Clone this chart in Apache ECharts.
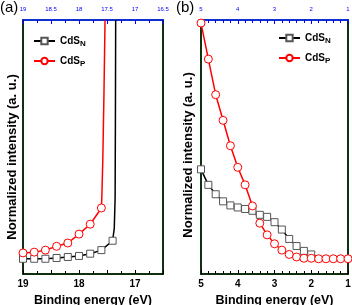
<!DOCTYPE html>
<html><head><meta charset="utf-8">
<script src="https://cdn.jsdelivr.net/npm/echarts@6/dist/echarts.min.js"></script>
<style>html,body{margin:0;padding:0;background:#fff}#c{width:352px;height:305px}</style>
</head><body><div id="c"></div>
<script>
// Panel (a)
const xA_N = [19.0, 18.8, 18.6, 18.4, 18.2, 18.0, 17.8, 17.6, 17.4];
const yA_N = [6.0, 6.0, 6.0, 6.3, 6.7, 7.1, 8.0, 9.4, 13.1];
const xA_N_rise = [17.37, 17.355, 17.35, 17.345];
const yA_N_rise = [18, 30, 60, 100];
const xA_P = [19.0, 18.8, 18.6, 18.4, 18.2, 18.0, 17.8, 17.6];
const yA_P = [8.3, 8.6, 9.4, 10.9, 12.2, 15.7, 19.6, 26.0];
const xA_P_rise = [17.59, 17.575, 17.555, 17.535];
const yA_P_rise = [32, 45, 70, 100];
// Panel (b)
const xB = [5.0, 4.8, 4.6, 4.4, 4.2, 4.0, 3.8, 3.6, 3.4, 3.2, 3.0, 2.8, 2.6, 2.4, 2.2, 2.0, 1.8, 1.6, 1.4, 1.2, 1.0];
const yB_N = [41.2, 35.1, 31.4, 28.6, 27.0, 26.2, 25.6, 24.9, 23.3, 22.5, 20.4, 17.5, 13.8, 11.0, 9.1, 7.7];
const yB_N_tail = [6.6, 6.4, 6.3, 6.2, 6.2];
const yB_P = [98.8, 84.6, 70.6, 60.5, 50.5, 42.0, 35.1, 26.8, 20.0, 15.4, 11.9, 9.4, 7.7, 6.7, 6.2, 6.2, 6.0, 6.0, 6.0, 6.0, 6.0];
const seriesNames = ['CdS_N', 'CdS_P'];
const xAxisTitle = 'Binding energy (eV)';
const yAxisTitle = 'Normalized intensity (a. u.)';
const panelLabels = ['(a)', '(b)'];

const FONT = 'Liberation Sans, Arial, sans-serif';
function pts(xs, ys) { return xs.map((x, i) => [x, ys[i]]); }
function noSym(xs, ys) { return xs.map((x, i) => ({ value: [x, ys[i]], symbol: 'none' })); }

const styleN = {
  type: 'line', symbol: 'rect', symbolSize: 7, showAllSymbol: true,
  lineStyle: { color: '#000', width: 1.5 },
  itemStyle: { color: '#fff', borderColor: '#555', borderWidth: 1 },
  emphasis: { disabled: true }
};
const styleP = {
  type: 'line', symbol: 'circle', symbolSize: 8, showAllSymbol: true,
  lineStyle: { color: '#f00', width: 1.5 },
  itemStyle: { color: '#fff', borderColor: '#f00', borderWidth: 1 },
  emphasis: { disabled: true }
};

function xBottom(grid, min, max, interval, split) {
  return {
    type: 'value', gridIndex: grid, min: min, max: max, interval: interval, inverse: true,
    position: 'bottom',
    name: xAxisTitle, nameLocation: 'middle', nameGap: 13,
    nameTextStyle: { fontFamily: FONT, fontWeight: 'bold', fontSize: 12.5, color: '#000' },
    axisLine: { show: true, onZero: false, lineStyle: { color: '#000', width: 1.5 } },
    axisTick: { show: true, inside: true, length: 4 },
    minorTick: { show: true, splitNumber: split, length: 3 },
    splitLine: { show: false },
    axisLabel: {
      show: true, margin: 5, interval: 0,
      fontFamily: FONT, fontWeight: 'bold', fontSize: 10, color: '#000',
      formatter: v => Math.abs(v - Math.round(v)) < 1e-6 ? String(Math.round(v)) : ''
    }
  };
}
function xTop(grid, min, max, interval, split) {
  return {
    type: 'value', gridIndex: grid, min: min, max: max, interval: interval, inverse: true,
    position: 'top',
    axisLine: { show: true, onZero: false, lineStyle: { color: '#00f', width: 1.5 } },
    axisTick: { show: true, inside: true, length: 4, lineStyle: { color: '#00f' } },
    minorTick: { show: true, splitNumber: split, length: 3, lineStyle: { color: '#00f' } },
    splitLine: { show: false },
    axisLabel: { show: true, color: '#00f', fontSize: 6 }
  };
}
function yAx(grid, right) {
  return {
    type: 'value', gridIndex: grid, min: 0, max: 100, position: right ? 'right' : 'left',
    axisLine: { show: true, onZero: false, lineStyle: { color: '#000', width: 1.5 } },
    axisTick: { show: false }, axisLabel: { show: false }, splitLine: { show: false }
  };
}
const legendRich = {
  a: { fontFamily: FONT, fontWeight: 'bold', fontSize: 10, color: '#000' },
  s: { fontFamily: FONT, fontWeight: 'bold', fontSize: 8, color: '#000', padding: [6, 0, 0, 0] }
};
function legendFmt(name) { const p = name.split('_'); return '{a|' + p[0] + '}{s|' + p[1] + '}'; }

const option = {
  animation: false,
  title: [
    { text: panelLabels[0], left: 0, top: 0, textStyle: { fontFamily: FONT, fontSize: 15, fontWeight: 'normal', color: '#000' }, padding: 0 },
    { text: panelLabels[1], left: 176, top: 0, textStyle: { fontFamily: FONT, fontSize: 15, fontWeight: 'normal', color: '#000' }, padding: 0 }
  ],
  graphic: [
    { type: 'text', x: 12, y: 157, rotation: Math.PI / 2, silent: true,
      style: { text: yAxisTitle, align: 'center', verticalAlign: 'middle', font: 'bold 13px ' + FONT, fill: '#000' } },
    { type: 'text', x: 188, y: 155, rotation: Math.PI / 2, silent: true,
      style: { text: yAxisTitle, align: 'center', verticalAlign: 'middle', font: 'bold 13px ' + FONT, fill: '#000' } }
  ],
  grid: [
    { left: 23, top: 20, width: 140, height: 254, show: true, borderColor: '#0a0', borderWidth: 1.5, backgroundColor: 'transparent', containLabel: false, outerBoundsMode: 'none' },
    { left: 201, top: 20, width: 147, height: 254, show: true, borderColor: '#0a0', borderWidth: 1.5, backgroundColor: 'transparent', containLabel: false, outerBoundsMode: 'none' }
  ],
  legend: [
    { data: seriesNames, orient: 'vertical', left: 33, top: 36, itemWidth: 21, itemHeight: 8, itemGap: 8, padding: 0,
      formatter: legendFmt, textStyle: { rich: legendRich }, selectedMode: false },
    { data: seriesNames, orient: 'vertical', left: 278, top: 33, itemWidth: 21, itemHeight: 8, itemGap: 8, padding: 0,
      formatter: legendFmt, textStyle: { rich: legendRich }, selectedMode: false }
  ],
  xAxis: [
    xBottom(0, 16.5, 19, 0.5, 2), xTop(0, 16.5, 19, 0.5, 2),
    xBottom(1, 1, 5, 1, 5), xTop(1, 1, 5, 1, 5)
  ],
  yAxis: [yAx(0, false), yAx(0, true), yAx(1, false), yAx(1, true)],
  series: [
    Object.assign({}, styleN, { name: seriesNames[0], xAxisIndex: 0, yAxisIndex: 0, data: pts(xA_N, yA_N).concat(noSym(xA_N_rise, yA_N_rise)) }),
    Object.assign({}, styleP, { name: seriesNames[1], xAxisIndex: 0, yAxisIndex: 0, data: pts(xA_P, yA_P).concat(noSym(xA_P_rise, yA_P_rise)) }),
    Object.assign({}, styleN, { name: seriesNames[0], xAxisIndex: 2, yAxisIndex: 2, data: pts(xB.slice(0, yB_N.length), yB_N).concat(noSym(xB.slice(yB_N.length), yB_N_tail)) }),
    Object.assign({}, styleP, { name: seriesNames[1], xAxisIndex: 2, yAxisIndex: 2, data: pts(xB, yB_P) })
  ]
};
const chart = echarts.init(document.getElementById('c'), null, { renderer: 'canvas' });
chart.setOption(option);
</script></body></html>
